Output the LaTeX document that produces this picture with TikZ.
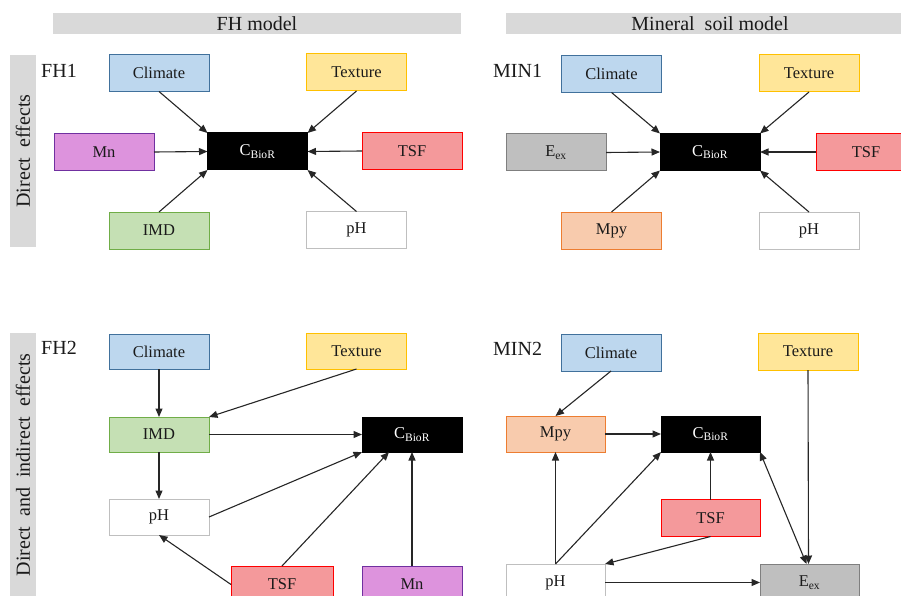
\documentclass[tikz,border=0pt]{standalone}
\usepackage{fontspec}
\setmainfont{Liberation Serif}
\usetikzlibrary{arrows.meta}
\definecolor{txt}{HTML}{1A1A1A}
\definecolor{hdr}{HTML}{D9D9D9}
\definecolor{climF}{HTML}{BDD7EE}\definecolor{climD}{HTML}{41719C}
\definecolor{texF}{HTML}{FFE699}\definecolor{texD}{HTML}{FFC000}
\definecolor{mnF}{HTML}{DD93DD}\definecolor{mnD}{HTML}{7030A0}
\definecolor{tsfF}{HTML}{F4999B}\definecolor{tsfD}{HTML}{FF0000}
\definecolor{imdF}{HTML}{C5E0B4}\definecolor{imdD}{HTML}{70AD47}
\definecolor{phD}{HTML}{BFBFBF}
\definecolor{eexF}{HTML}{BFBFBF}\definecolor{eexD}{HTML}{7F7F7F}
\definecolor{mpyF}{HTML}{F8CBAD}\definecolor{mpyD}{HTML}{ED7D31}
\newcommand{\CB}{C\textsubscript{BioR}}
\newcommand{\Eex}{E\textsubscript{ex}}
\begin{document}
\begin{tikzpicture}[x=1pt,y=-1pt,
  box/.style={rectangle,minimum width=100pt,minimum height=37pt,inner sep=0pt,outer sep=0pt,
     line width=1pt,font=\fontsize{16.5}{18}\selectfont,text=txt},
  clim/.style={box,fill=climF,draw=climD},
  tex/.style={box,fill=texF,draw=texD},
  mnb/.style={box,fill=mnF,draw=mnD},
  tsf/.style={box,fill=tsfF,draw=tsfD},
  imd/.style={box,fill=imdF,draw=imdD},
  phb/.style={box,fill=white,draw=phD},
  eex/.style={box,fill=eexF,draw=eexD},
  mpy/.style={box,fill=mpyF,draw=mpyD},
  cbr/.style={box,fill=black,draw=black,text=white},
  hbar/.style={rectangle,fill=hdr,inner sep=0pt,minimum width=408pt,minimum height=21pt,
     font=\fontsize{20}{22}\selectfont,text=txt},
  sbar/.style={rectangle,fill=hdr,inner sep=0pt,minimum height=26pt,
     font=\fontsize{20}{22}\selectfont,text=txt,rotate=90},
  lab/.style={font=\fontsize{20}{22}\selectfont,text=txt,anchor=west,inner sep=0pt},
  arr/.style={-{Triangle[length=8.5pt,width=7pt]},line width=1.1pt,draw=black!85},
  darr/.style={{Triangle[length=8.5pt,width=7pt]}-{Triangle[length=8.5pt,width=7pt]},line width=1.1pt,draw=black!85}
]
\useasboundingbox (0,0) rectangle (901,596);
% headers
\node[hbar] (h1) at (257,23.5) {FH model};
\node[hbar] (h2) at (710,23.5) {Mineral\ \ soil model};
\node[sbar,minimum width=192pt] (s1) at (23,151) {Direct\ \ effects};
\node[sbar,minimum width=264pt] (s2) at (23,465) {Direct\ \ and\ \ indirect\ \ effects};
% labels
\node[lab] (l1) at (41,71) {FH1};
\node[lab] (l2) at (493,71) {MIN1};
\node[lab] (l3) at (41,348) {FH2};
\node[lab] (l4) at (493,349) {MIN2};
% FH1
\node[clim] (a1) at (159,73) {Climate};
\node[tex]  (a2) at (356.5,72.5) {Texture};
\node[mnb]  (a3) at (104,152) {Mn};
\node[cbr]  (a0) at (257.5,151.5) {\CB};
\node[tsf]  (a4) at (412,151) {TSF};
\node[imd]  (a5) at (159,230.5) {IMD};
\node[phb]  (a6) at (356.5,230) {pH};
\draw[arr] (a1.south) -- (a0.north west);
\draw[arr] (a2.south) -- (a0.north east);
\draw[arr] (a3.east) -- (a0.west);
\draw[arr] (a4.west) -- (a0.east);
\draw[arr] (a5.north) -- (a0.south west);
\draw[arr] (a6.north) -- (a0.south east);
% MIN1
\node[clim] (b1) at (611.5,74) {Climate};
\node[tex]  (b2) at (809,73.5) {Texture};
\node[eex]  (b3) at (556,152.5) {\Eex};
\node[cbr]  (b0) at (710,152) {\CB};
\node[tsf]  (b4) at (866,152) {TSF};
\node[mpy]  (b5) at (611.5,230.5) {Mpy};
\node[phb]  (b6) at (809,230.5) {pH};
\draw[arr] (b1.south) -- (b0.north west);
\draw[arr] (b2.south) -- (b0.north east);
\draw[arr] (b3.east) -- (b0.west);
\draw[arr] (b4.west) -- (b0.east);
\draw[arr] (b5.north) -- (b0.south west);
\draw[arr] (b6.north) -- (b0.south east);
% FH2
\node[clim,minimum height=35pt] (c1) at (159,351.5) {Climate};
\node[tex,minimum height=36pt]  (c2) at (356.5,351) {Texture};
\node[imd,minimum height=35pt]  (c3) at (159,434.5) {IMD};
\node[cbr,minimum height=35pt]  (c0) at (412,434.5) {\CB};
\node[phb,minimum height=36pt]  (c4) at (159,517) {pH};
\node[tsf,minimum width=102pt]  (c5) at (282,584.5) {TSF};
\node[mnb]  (c6) at (412,584.5) {Mn};
\draw[arr] (c1.south) -- (c3.north);
\draw[arr] (c2.south) -- (c3.north east);
\draw[arr] (c3.east) -- (c0.west);
\draw[arr] (c3.south) -- (c4.north);
\draw[arr] (c4.east) -- (c0.south west);
\draw[arr] (c5.north) -- ([xshift=-23pt]c0.south);
\draw[arr] (c6.north) -- (c0.south);
\draw[arr] (c5.west) -- (c4.south);
% MIN2
\node[clim] (d1) at (611,352.5) {Climate};
\node[tex]  (d2) at (808,351.5) {Texture};
\node[mpy,minimum width=99pt,minimum height=36pt]  (d3) at (555.5,434) {Mpy};
\node[cbr,minimum width=99pt,minimum height=36pt]  (d0) at (710.5,434) {\CB};
\node[tsf,minimum width=99pt]  (d4) at (710.5,518) {TSF};
\node[phb,minimum width=99pt]  (d5) at (555.5,582.5) {pH};
\node[eex,minimum width=99pt]  (d6) at (809.5,582.5) {\Eex};
\draw[arr] (d1.south) -- (d3.north);
\draw[arr] (d3.east) -- (d0.west);
\draw[arr] (d5.north) -- (d3.south);
\draw[arr] (d5.north) -- (d0.south west);
\draw[arr] (d4.north) -- (d0.south);
\draw[arr] (d4.south) -- (d5.north east);
\draw[arr] (d5.east) -- (d6.west);
\draw[arr] (d2.south) -- ([xshift=-1pt]d6.north);
\draw[darr] (d0.south east) -- ([xshift=-3pt]d6.north);
\end{tikzpicture}
\end{document}
